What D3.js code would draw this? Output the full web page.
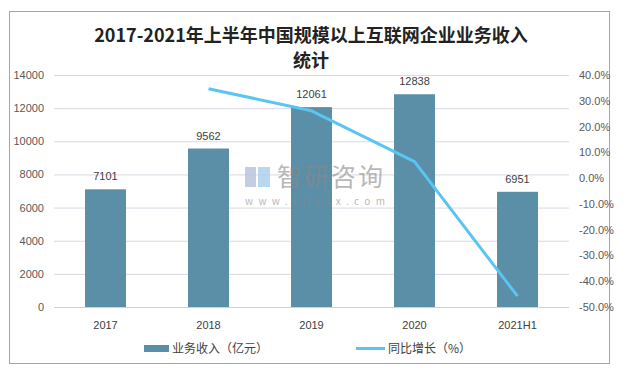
<!DOCTYPE html>
<html><head><meta charset="utf-8">
<script src="https://cdn.jsdelivr.net/npm/d3@7/dist/d3.min.js"></script>
<style>body{margin:0;background:#fff;} text{font-family:"Noto Sans CJK SC","Noto Sans",sans-serif;}</style>
</head><body>
<svg id="c" width="631" height="370"></svg>
<script>
const categories = ["2017","2018","2019","2020","2021H1"];
const revenue = [7101, 9562, 12061, 12838, 6951];
const growth = [null, 34.7, 26.1, 6.4, -45.8];
const leftTicks = [0,2000,4000,6000,8000,10000,12000,14000];
const rightTicks = [-50,-40,-30,-20,-10,0,10,20,30,40];
const titleLines = ["2017-2021年上半年中国规模以上互联网企业业务收入","统计"];
const legendLabels = ["业务收入（亿元）","同比增长（%）"];

const svg = d3.select("#c");
const barColor = "#5b8ea7", lineColor = "#5bc5f2";
svg.append("rect").attr("x",9.5).attr("y",11.5).attr("width",600).attr("height",352)
  .attr("fill","#fff").attr("stroke","#a6a6a6");

const x = d3.scaleBand().domain(categories).range([54,569]);
const yL = d3.scaleLinear().domain([0,14000]).range([307,75]);
const yR = d3.scaleLinear().domain([-50,40]).range([307,75]);

// gridlines
svg.append("g").selectAll("line").data(leftTicks).join("line")
  .attr("x1",54).attr("x2",569).attr("y1",d=>yL(d)+0.5).attr("y2",d=>yL(d)+0.5)
  .attr("stroke",d=>d===0?"#d0d0d0":"#dcd6e3").attr("stroke-width",1);

// left axis
const gl = svg.append("g").attr("transform","translate(44,0)")
  .call(d3.axisLeft(yL).tickValues(leftTicks).tickSize(0).tickPadding(0).tickFormat(d3.format("d")));
gl.select(".domain").remove();
gl.selectAll("text").attr("fill","#595959").style("font-size","11px").style("font-family","Liberation Sans, Arial, sans-serif");

// right axis
const gr = svg.append("g").attr("transform","translate(579,0)")
  .call(d3.axisRight(yR).tickValues(rightTicks).tickSize(0).tickPadding(0).tickFormat(d=>d.toFixed(1)+"%"));
gr.select(".domain").remove();
gr.selectAll("text").attr("fill","#595959").style("font-size","11px").style("font-family","Liberation Sans, Arial, sans-serif");

// bottom axis
const gb = svg.append("g").attr("transform","translate(0,307)")
  .call(d3.axisBottom(x).tickSize(0).tickPadding(14));
gb.select(".domain").remove();
gb.selectAll("text").attr("fill","#404040").style("font-size","11px").style("font-family","Liberation Sans, Arial, sans-serif");

// bars
const bw = 41;
svg.append("g").selectAll("rect").data(revenue).join("rect")
  .attr("x",(d,i)=>x(categories[i])+x.bandwidth()/2-bw/2)
  .attr("y",d=>yL(d)).attr("width",bw).attr("height",d=>yL(0)-yL(d))
  .attr("fill",barColor);

// bar labels
svg.append("g").selectAll("text").data(revenue).join("text")
  .attr("x",(d,i)=>x(categories[i])+x.bandwidth()/2)
  .attr("y",d=>yL(d)-9).attr("text-anchor","middle").text(d=>d)
  .attr("fill","#404040").style("font-size","11px").style("font-family","Liberation Sans, Arial, sans-serif");

// line
const pts = growth.map((g,i)=>({c:categories[i],g})).filter(p=>p.g!==null);
svg.append("path").datum(pts)
  .attr("d",d3.line().x(p=>x(p.c)+x.bandwidth()/2).y(p=>yR(p.g)))
  .attr("fill","none").attr("stroke",lineColor).attr("stroke-width",3).attr("stroke-linejoin","round");

// watermark (drawn on top)
const wm = svg.append("g");
wm.append("rect").attr("x",245).attr("y",167).attr("width",11).attr("height",20).attr("fill","#b7c0dc").attr("opacity",0.8);
wm.append("rect").attr("x",258).attr("y",167).attr("width",12).attr("height",20).attr("fill","#a9cdec").attr("opacity",0.8);
wm.append("text").attr("x",277).attr("y",186).text("智研咨询").attr("fill","#8a8a8a").attr("opacity",0.6)
  .style("font-size","25px").style("letter-spacing","2px");
wm.append("text").attr("x",245).attr("y",205).text("www.chyxx.com").attr("fill","#8a8a8a").attr("opacity",0.6)
  .style("font-size","10px").style("letter-spacing","5.4px");

// title
svg.append("g").selectAll("text").data(titleLines).join("text")
  .attr("x",311).attr("y",(d,i)=>42+i*25).attr("text-anchor","middle")
  .text(d=>d).attr("fill","#222").style("font-size","18px").style("font-weight","bold");

// legend
svg.append("rect").attr("x",144).attr("y",345).attr("width",25).attr("height",7).attr("fill",barColor);
svg.append("text").attr("x",172).attr("y",353).text(legendLabels[0]).attr("fill","#404040").style("font-size","12px");
svg.append("line").attr("x1",356).attr("x2",385).attr("y1",348.5).attr("y2",348.5).attr("stroke",lineColor).attr("stroke-width",3);
svg.append("text").attr("x",388).attr("y",353).text(legendLabels[1]).attr("fill","#404040").style("font-size","12px");
</script>
</body></html>
